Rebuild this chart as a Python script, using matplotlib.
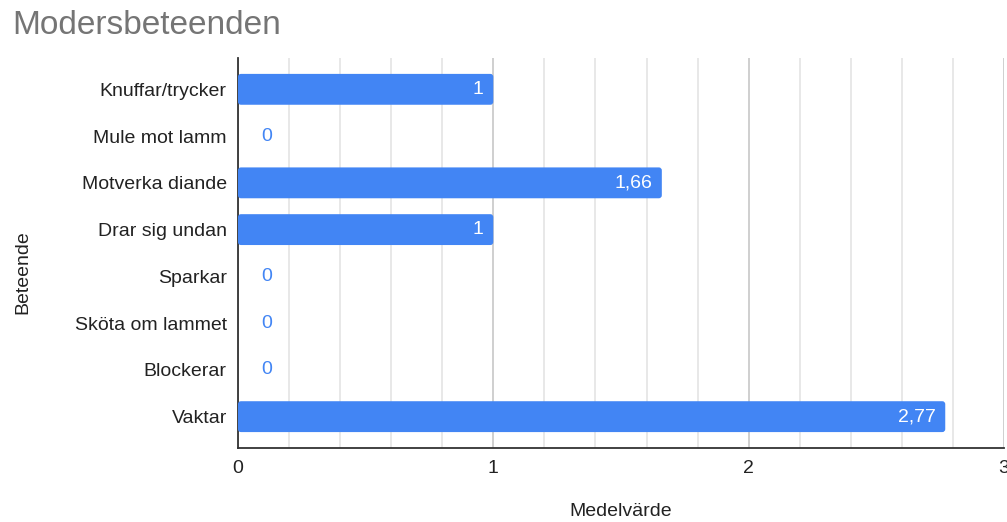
import matplotlib.pyplot as plt
from matplotlib.patches import FancyBboxPatch
from matplotlib.ticker import MultipleLocator

plt.rcParams['font.family'] = ['Liberation Sans', 'DejaVu Sans']

categories = ['Knuffar/trycker', 'Mule mot lamm', 'Motverka diande', 'Drar sig undan',
              'Sparkar', 'Sköta om lammet', 'Blockerar', 'Vaktar']
values = [1, 0, 1.66, 1, 0, 0, 0, 2.77]
labels = ['1', '0', '1,66', '1', '0', '0', '0', '2,77']

blue = '#4285f4'
txt = '#222222'

fig = plt.figure(figsize=(10.07, 5.22), dpi=100)
ax = fig.add_axes([0.2363, 0.1418, 0.7607, 0.7471])

ax.set_xlim(0, 3)
ax.set_ylim(len(categories) - 1 + 0.67, -0.67)

# px per data unit, used to keep the corner rounding circular
xpx = 0.7607 * 1007 / 3
ypx = 0.7471 * 522 / (len(categories) - 1 + 1.34)
h = 0.66
for i, (v, lab) in enumerate(zip(values, labels)):
    if v > 0:
        r = 3 / xpx
        p = FancyBboxPatch((0, i - h / 2), v, h,
                           boxstyle=f'round,pad=0,rounding_size={r}',
                           mutation_aspect=xpx / ypx,
                           fc=blue, ec='none', zorder=3)
        ax.add_patch(p)
        ax.annotate(lab, (v, i), xytext=(-7, 0), textcoords='offset points',
                    ha='right', va='center', color='white', fontsize=14, zorder=4)
    else:
        ax.annotate(lab, (v, i), xytext=(16.5, 0), textcoords='offset points',
                    ha='left', va='center', color=blue, fontsize=14, zorder=4)

ax.set_yticks(range(len(categories)))
ax.set_yticklabels(categories)
ax.xaxis.set_major_locator(MultipleLocator(1))
ax.xaxis.set_minor_locator(MultipleLocator(0.2))
ax.grid(axis='x', which='major', color='#cccccc', lw=1.3, zorder=0)
ax.grid(axis='x', which='minor', color='#e6e6e6', lw=1.3, zorder=0)
ax.set_axisbelow(True)

ax.tick_params(axis='both', which='both', length=0, labelsize=14, colors=txt)
ax.tick_params(axis='y', pad=8)
ax.tick_params(axis='x', pad=9)
for s in ['top', 'right']:
    ax.spines[s].set_visible(False)
for s in ['left', 'bottom']:
    ax.spines[s].set_color('#333333')
    ax.spines[s].set_linewidth(1.3)

ax.set_xlabel('Medelvärde', fontsize=14, color=txt)
ax.xaxis.set_label_coords(0.5, -0.14)
ax.set_ylabel('Beteende', fontsize=14, color=txt)
ax.yaxis.set_label_coords(-0.27, 0.45)

fig.text(0.012, 0.935, 'Modersbeteenden', fontsize=24, color='#757575', ha='left', va='baseline')

fig.savefig('out.png', dpi=100)
